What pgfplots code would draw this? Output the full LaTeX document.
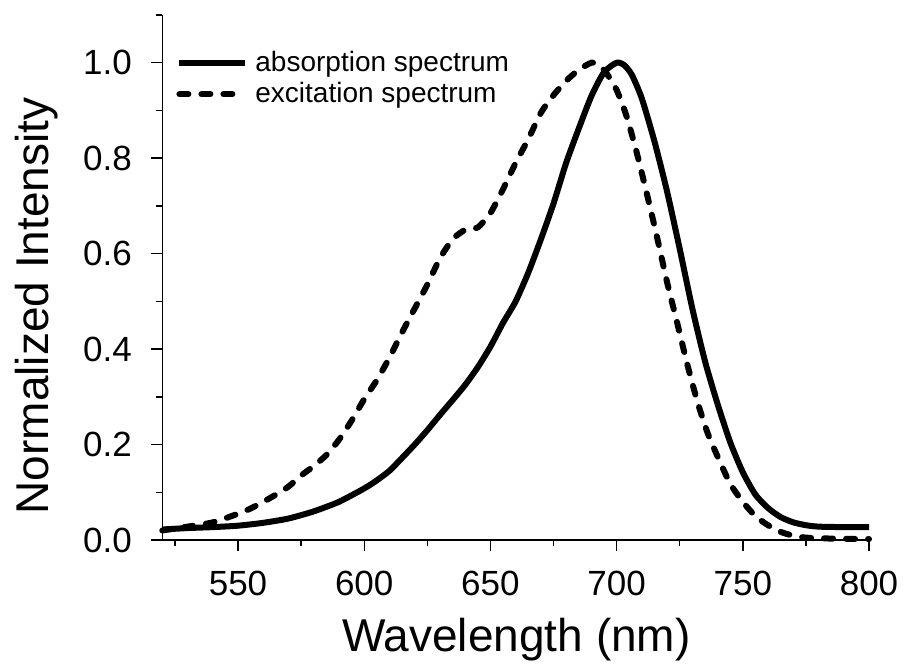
\documentclass[border=0pt]{standalone}
\usepackage{fontspec}
\setmainfont{Liberation Sans}
\usepackage{pgfplots}
\pgfplotsset{compat=1.18}
\pgfplotsset{dashlegend/.style={legend image code/.code={\draw[##1] (0pt,0pt) -- (26.5pt,0pt);}}}
\begin{document}
\begin{tikzpicture}
\useasboundingbox (-81.15pt,-62pt) rectangle (370.85pt,270pt);
\begin{axis}[
  at={(0pt,0pt)}, anchor=south west,
  scale only axis, width=353.35pt, height=262.5pt,
  xmin=520, xmax=800, ymin=0, ymax=1.1,
  clip=false,
  axis lines=left, axis line style={-, line width=0.7pt, black},
  tick align=outside,
  major tick length=5.5pt, minor tick length=3pt,
  every tick/.style={black, line width=0.7pt},
  xtick={550,600,650,700,750,800}, minor xtick={525,575,625,675,725,775},
  ytick={0,0.2,0.4,0.6,0.8,1.0}, minor ytick={0.1,0.3,0.5,0.7,0.9,1.1},
  yticklabels={0.0,0.2,0.4,0.6,0.8,1.0},
  /pgf/number format/assume math mode=true,
  tick label style={font=\fontsize{17.5}{20}\selectfont},
  xticklabel style={inner sep=0pt, yshift=-10pt},
  yticklabel style={inner sep=0pt, xshift=-9.5pt},
  xlabel={Wavelength (nm)},
  xlabel style={at={(axis description cs:0.501,-0.19)}, anchor=center, font=\fontsize{23}{26}\selectfont},
  ylabel={Normalized Intensity},
  ylabel style={at={(axis description cs:-0.1776,0.446)}, anchor=center, font=\fontsize{23}{26}\selectfont},
  legend cell align=left,
  legend image code/.code={\draw[#1] (0pt,0pt) -- (33pt,0pt);},
  legend style={at={(axis description cs:0.0194,0.931)}, anchor=north west, draw=none, fill=none, inner sep=0pt, row sep=3.8pt, column sep=3.5pt, font=\fontsize{14}{16}\selectfont, nodes={inner sep=0pt}},
]
\addplot[black, line width=3pt, line join=round, smooth, tension=0.4] coordinates {
(520,0.022) (530,0.025) (540,0.027) (550,0.030) (560,0.036) (570,0.045)
(580,0.060) (590,0.080) (600,0.108) (605,0.125) (610,0.145) (615,0.172)
(620,0.200) (625,0.230) (630,0.262) (635,0.293) (640,0.325) (645,0.362)
(650,0.405) (655,0.455) (660,0.500) (665,0.560) (670,0.630) (675,0.705)
(680,0.790) (685,0.862) (690,0.930) (695,0.980) (700,1.000) (703,0.995)
(706,0.975) (710,0.925) (715,0.835) (720,0.730) (725,0.610) (730,0.485)
(735,0.375) (740,0.285) (745,0.205) (750,0.142) (755,0.095) (760,0.067)
(765,0.048) (770,0.037) (775,0.031) (780,0.028) (790,0.027) (800,0.027)
};
\addlegendentry{absorption spectrum}
\addplot[black, line width=3pt, line cap=round, dash pattern=on 4.5pt off 6.5pt, smooth, tension=0.4, dashlegend] coordinates {
(520,0.020) (530,0.028) (540,0.037) (550,0.055) (555,0.066) (560,0.080)
(565,0.095) (570,0.112) (575,0.135) (580,0.155) (585,0.178) (590,0.210)
(595,0.250) (600,0.295) (605,0.335) (610,0.382) (615,0.435) (620,0.485)
(625,0.535) (630,0.590) (635,0.630) (640,0.650) (645,0.655) (650,0.685)
(655,0.735) (660,0.790) (665,0.840) (670,0.895) (675,0.932) (680,0.962)
(685,0.985) (690,1.000) (693,0.995) (696,0.978) (700,0.943) (704,0.887)
(708,0.811) (712,0.725) (716,0.635) (720,0.540) (724,0.455) (728,0.368)
(732,0.290) (736,0.225) (740,0.175) (745,0.118) (750,0.080) (755,0.050)
(760,0.031) (765,0.017) (770,0.009) (775,0.005) (785,0.003) (800,0.002)
};
\addlegendentry{excitation spectrum}
\end{axis}
\end{tikzpicture}
\end{document}
